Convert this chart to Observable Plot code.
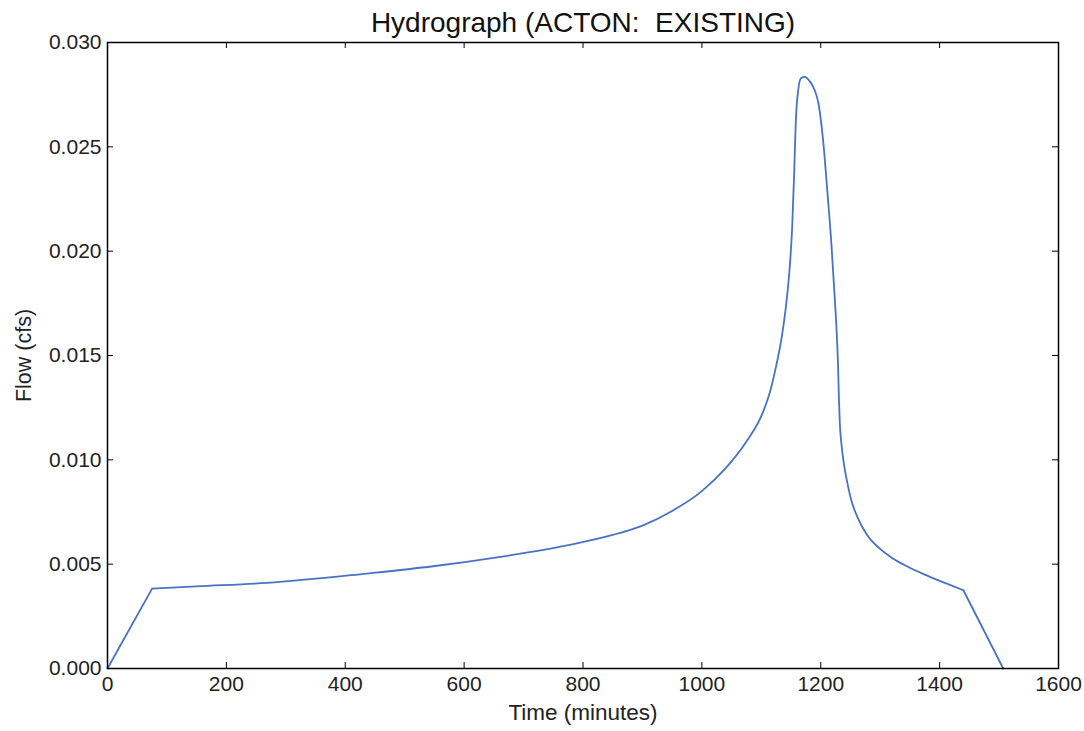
<!DOCTYPE html>
<html>
<head>
<meta charset="utf-8">
<script src="https://cdn.jsdelivr.net/npm/d3@7"></script>
<script src="https://cdn.jsdelivr.net/npm/@observablehq/plot@0.6"></script>
<style>
  html, body { margin: 0; padding: 0; background: #ffffff; }
  svg text { white-space: pre; }
</style>
</head>
<body>
<div id="chart"></div>
<script>
// ---- data ----
const titleText = "Hydrograph (ACTON:  EXISTING)";
const xLabel = "Time (minutes)";
const yLabel = "Flow (cfs)";
const xTicks = [0, 200, 400, 600, 800, 1000, 1200, 1400, 1600];
const yTicks = [0.000, 0.005, 0.010, 0.015, 0.020, 0.025, 0.030];

const times = [0, 75, 150, 268, 436, 548, 661, 773, 850, 900, 950, 1000, 1040, 1073, 1103, 1115, 1125, 1135, 1142, 1148, 1152, 1155, 1158, 1162, 1167, 1173, 1180, 1190, 1196, 1205, 1211, 1218, 1223, 1227, 1229, 1230.5, 1232, 1235, 1239, 1244, 1251, 1261, 1278, 1297, 1320, 1345, 1375, 1409, 1440, 1507];
const flows = [0, 0.00383, 0.00394, 0.0041, 0.00455, 0.0049, 0.00535, 0.0059, 0.0064, 0.00685, 0.00755, 0.0085, 0.0096, 0.0108, 0.0123, 0.0133, 0.0145, 0.0160, 0.0175, 0.0193, 0.0212, 0.0235, 0.0262, 0.0277, 0.0283, 0.02835, 0.0282, 0.0277, 0.0271, 0.0250, 0.0229, 0.0203, 0.0180, 0.0160, 0.0146, 0.0130, 0.0118, 0.0107, 0.0098, 0.0090, 0.0081, 0.0073, 0.0064, 0.0058, 0.0053, 0.0049, 0.0045, 0.0041, 0.00375, 0];

const rows = times.map((t, i) => ({t, q: flows[i]}));
const n = rows.length;
const ramps = [
  ...rows.slice(0, 2).map(r => ({...r, seg: "up"})),
  ...rows.slice(n - 2).map(r => ({...r, seg: "down"}))
];
const main = rows.slice(1, n - 1);

const W = 1084, H = 731;
const mL = 107, mR = 26, mT = 42, mB = 63;
const frameW = W - mL - mR, frameH = H - mT - mB;
const tickLen = 6;
const lineColor = "#4a72c2";
const font = "'Liberation Sans', Arial, Helvetica, sans-serif";

const chart = Plot.plot({
  width: W,
  height: H,
  marginLeft: mL,
  marginRight: mR,
  marginTop: mT,
  marginBottom: mB,
  style: {fontFamily: font, fontSize: "21px", color: "#222", background: "#fff"},
  x: {domain: [0, 1600], label: null},
  y: {domain: [0, 0.03], label: null},
  marks: [
    Plot.line(ramps, {x: "t", y: "q", z: "seg", stroke: lineColor, strokeWidth: 1.8, curve: "linear"}),
    Plot.line(main, {x: "t", y: "q", stroke: lineColor, strokeWidth: 1.8, curve: "monotone-x"}),
    // inward ticks on all four sides
    Plot.tickX(xTicks, {x: d => d, insetTop: frameH - tickLen, stroke: "#000"}),
    Plot.tickX(xTicks, {x: d => d, insetBottom: frameH - tickLen, stroke: "#000"}),
    Plot.tickY(yTicks, {y: d => d, insetRight: frameW - tickLen, stroke: "#000"}),
    Plot.tickY(yTicks, {y: d => d, insetLeft: frameW - tickLen, stroke: "#000"}),
    Plot.axisX({ticks: xTicks, tickSize: 0, tickPadding: 8, fontSize: 21, tickFormat: d => String(d), label: null}),
    Plot.axisY({ticks: yTicks, tickSize: 0, tickPadding: 6, fontSize: 21, tickFormat: d3.format(".3f"), label: null}),
    Plot.frame({stroke: "#000", strokeWidth: 1.5}),
    Plot.text([titleText], {frameAnchor: "top", lineAnchor: "middle", textAnchor: "middle", dy: -19, fontSize: 28, fill: "#111"}),
    Plot.text([xLabel], {frameAnchor: "bottom", lineAnchor: "middle", textAnchor: "middle", dy: 44, fontSize: 22.5, fill: "#222"}),
    Plot.text([yLabel], {frameAnchor: "left", lineAnchor: "middle", textAnchor: "middle", dx: -83, rotate: -90, fontSize: 21.5, fill: "#222"})
  ]
});
document.getElementById("chart").appendChild(chart);
</script>
</body>
</html>
